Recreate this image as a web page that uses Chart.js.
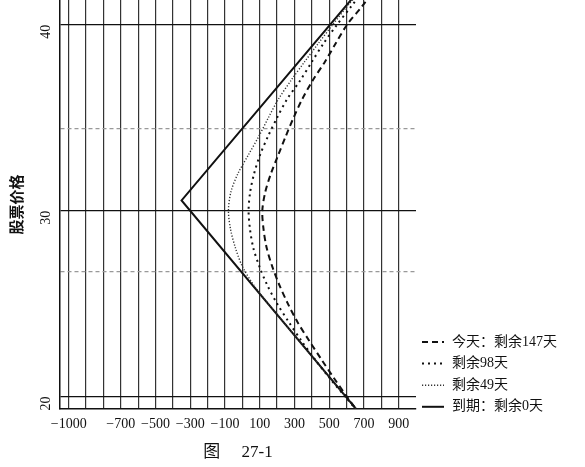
<!DOCTYPE html>
<html lang="zh">
<head>
  <meta charset="UTF-8" />
  <title>图 27-1</title>
  <script src="https://cdn.jsdelivr.net/npm/chart.js"></script>
  <style>
    html, body { margin: 0; padding: 0; background: #fff; }
  </style>
</head>
<body>
  <canvas id="grafico" width="585" height="467"></canvas>

  <script>
    // Datos: eje y = precio de la acción, eje x = ganancia/pérdida
    const precio147 = [19, 20, 21, 22, 23, 24, 25, 26, 27, 28, 29, 30, 31, 32, 33, 34, 35, 36, 37, 38, 39, 40, 41, 42];
    const pyg147    = [680, 602, 527, 455, 385, 318, 262, 213, 172, 140, 122, 115, 132, 165, 207, 250, 295, 345, 405, 475, 538, 603, 690, 770];

    const precio98 = [19, 20, 21, 22, 23, 24, 25, 26, 27, 28, 29, 30, 31, 32, 33, 34, 35, 36, 37, 38, 39, 40, 41, 42];
    const pyg98    = [682, 592, 502, 418, 340, 268, 200, 143, 98, 63, 44, 36, 45, 68, 102, 148, 200, 258, 333, 400, 468, 545, 628, 712];

    const precio49 = [19, 20, 21, 22, 23, 24, 25, 26, 27, 28, 29, 30, 31, 32, 33, 34, 35, 36, 37, 38, 39, 40, 41, 42];
    const pyg49    = [685, 595, 505, 415, 326, 237, 148, 65, 0, -40, -68, -80, -66, -25, 35, 95, 150, 208, 280, 358, 438, 520, 605, 695];

    const precio0 = [19, 30.55, 42];
    const pyg0    = [685, -350, 686];

    const etiquetas = ['今天：剩余147天', '剩余98天', '剩余49天', '到期：剩余0天'];

    const ticksX = [-1000, -900, -800, -700, -600, -500, -400, -300, -200, -100, 0, 100, 200, 300, 400, 500, 600, 700, 800, 900];
    const etiquetasX = [-1000, -700, -500, -300, -100, 100, 300, 500, 700, 900];
    const ticksY = [20, 26.7, 30, 34.4, 40];
    const etiquetasY = [20, 30, 40];

    function puntos(precios, pyg) {
      return precios.map((p, i) => ({ x: pyg[i], y: p }));
    }

    function fmt(v) {
      return v < 0 ? '\u2212' + Math.abs(v) : String(v);
    }

    const serif = '"Liberation Serif", "DejaVu Serif", "Noto Sans CJK SC", serif';
    const cjk = '"Liberation Serif", "Noto Sans CJK SC", sans-serif';

    // Leyenda dibujada a mano a la derecha del área del gráfico
    const leyenda = {
      id: 'leyenda',
      afterDraw(chart) {
        const c = chart.ctx;
        const area = chart.chartArea;
        const x0 = area.right + 6;
        chart.data.datasets.forEach((ds, i) => {
          const y = area.bottom - 67 + i * 21.6;
          c.save();
          c.strokeStyle = ds.borderColor;
          c.lineWidth = ds.borderWidth;
          c.setLineDash(ds.borderDash || []);
          c.beginPath();
          c.moveTo(x0, y);
          c.lineTo(x0 + 22, y);
          c.stroke();
          c.setLineDash([]);
          c.fillStyle = '#111';
          c.font = '14px ' + cjk;
          c.textBaseline = 'middle';
          c.fillText(ds.label, x0 + 30, y);
          c.restore();
        });
      }
    };

    const ctx = document.getElementById('grafico').getContext('2d');
    new Chart(ctx, {
      type: 'scatter',
      data: {
        datasets: [
          { label: etiquetas[0], data: puntos(precio147, pyg147), showLine: true, borderColor: '#111', borderWidth: 2, borderDash: [6, 4], pointRadius: 0, tension: 0.3 },
          { label: etiquetas[1], data: puntos(precio98, pyg98), showLine: true, borderColor: '#111', borderWidth: 2, borderDash: [2, 4], pointRadius: 0, tension: 0.3 },
          { label: etiquetas[2], data: puntos(precio49, pyg49), showLine: true, borderColor: '#333', borderWidth: 1.4, borderDash: [1.2, 1.8], pointRadius: 0, tension: 0.3 },
          { label: etiquetas[3], data: puntos(precio0, pyg0), showLine: true, borderColor: '#111', borderWidth: 2, pointRadius: 0, tension: 0 }
        ]
      },
      options: {
        responsive: false,
        animation: false,
        layout: { padding: { top: 0, right: 169, bottom: 0, left: 0 } },
        plugins: {
          legend: { display: false },
          tooltip: { enabled: false }
        },
        scales: {
          x: {
            type: 'linear',
            min: -1050,
            max: 1000,
            afterBuildTicks: s => { s.ticks = ticksX.map(v => ({ value: v })); },
            afterFit: s => { s.height = 58; s.paddingLeft = 0; s.paddingRight = 0; },
            grid: { color: '#333', lineWidth: 1.2, drawTicks: false },
            border: { color: '#111', width: 1.5 },
            ticks: {
              padding: 7,
              autoSkip: false,
              maxRotation: 0,
              color: '#111',
              font: { family: serif, size: 14 },
              callback: v => etiquetasX.includes(v) ? fmt(v) : ''
            },
            title: {
              display: true,
              text: '图\u3000 27-1',
              color: '#111',
              font: { family: cjk, size: 17 },
              padding: { top: 4, bottom: 4 }
            }
          },
          y: {
            type: 'linear',
            min: 19.33,
            max: 41.33,
            afterBuildTicks: s => { s.ticks = ticksY.map(v => ({ value: v })); },
            afterFit: s => { s.width = 60; s.paddingTop = 0; s.paddingBottom = 0; },
            grid: {
              color: c => (c.tick && !etiquetasY.includes(c.tick.value)) ? '#999' : '#111',
              lineWidth: 1.2,
              drawTicks: false
            },
            border: {
              color: '#111',
              width: 1.5,
              dash: c => (c.tick && !etiquetasY.includes(c.tick.value)) ? [4, 3] : []
            },
            ticks: {
              padding: 14,
              autoSkip: false,
              minRotation: 90,
              maxRotation: 90,
              color: '#111',
              font: { family: serif, size: 14 },
              callback: v => etiquetasY.includes(v) ? String(v) : ''
            },
            title: {
              display: true,
              text: '股票价格',
              color: '#111',
              font: { family: cjk, size: 15, weight: 'bold' },
              padding: { top: 9, bottom: 4 }
            }
          }
        }
      },
      plugins: [leyenda]
    });
  </script>
</body>
</html>
